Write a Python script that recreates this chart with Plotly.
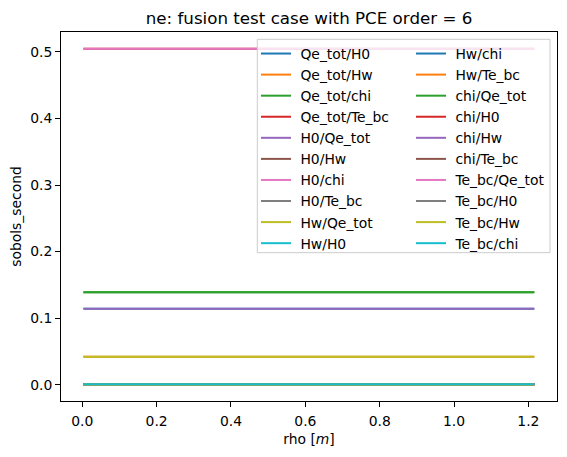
import plotly.graph_objects as go

# data
rho = [0.003, 0.3, 0.6, 0.9, 1.216]
names = ["Qe_tot/H0", "Qe_tot/Hw", "Qe_tot/chi", "Qe_tot/Te_bc",
         "H0/Qe_tot", "H0/Hw", "H0/chi", "H0/Te_bc",
         "Hw/Qe_tot", "Hw/H0", "Hw/chi", "Hw/Te_bc",
         "chi/Qe_tot", "chi/H0", "chi/Hw", "chi/Te_bc",
         "Te_bc/Qe_tot", "Te_bc/H0", "Te_bc/Hw", "Te_bc/chi"]
values = [0.114, 0.042, 0.139, 0.505,
          0.114, 0.0005, 0.0007, 0.0,
          0.042, 0.0008, 0.0005, 0.0004,
          0.139, 0.0007, 0.0005, 0.0008,
          0.505, 0.0, 0.0004, 0.0008]
x_ticks = [0.0, 0.2, 0.4, 0.6, 0.8, 1.0, 1.2]
y_ticks = [0.0, 0.1, 0.2, 0.3, 0.4, 0.5]

colors = ["#1f77b4", "#ff7f0e", "#2ca02c", "#d62728", "#9467bd",
          "#8c564b", "#e377c2", "#7f7f7f", "#bcbd22", "#17becf"]

FONT = "DejaVu Sans"
FS = 13.9
OFF = 8  # default page body margin
W, H = 567 - OFF, 457 - OFF
# plot area in page pixels: left 61, top 32, right 557, bottom 401
ML, MT = 61 - OFF, 32 - OFF
MR, MB = W - (557 - OFF), H - (401 - OFF)
PW, PH = W - ML - MR, H - MT - MB


def px_x(p):
    return (p - OFF - ML) / PW


def px_y(p):
    return 1 - (p - OFF - MT) / PH


fig = go.Figure()
n = len(names)
half = n // 2
for i, (nm, v) in enumerate(zip(names, values)):
    fig.add_trace(go.Scatter(
        x=rho, y=[v] * len(rho), mode="lines", name="\u00a0" + nm,
        line=dict(color=colors[i % 10], width=2),
        legend="legend" if i < half else "legend2",
    ))

leg_common = dict(
    bgcolor="rgba(0,0,0,0)", borderwidth=0,
    font=dict(size=FS, family=FONT, color="black"),
    xanchor="left", yanchor="top", tracegroupgap=0,
)

fig.update_layout(
    width=W, height=H,
    margin=dict(l=ML, r=MR, t=MT, b=MB, autoexpand=False),
    paper_bgcolor="white", plot_bgcolor="white",
    font=dict(family=FONT, size=FS, color="black"),
    title=dict(text="ne: fusion test case with PCE order = 6",
               x=(ML + W - MR) / 2 / W, xanchor="center",
               y=1 - 10 / H, yanchor="middle",
               font=dict(size=16.7, family=FONT, color="black")),
    showlegend=True,
    legend=dict(x=px_x(256), y=px_y(38), **leg_common),
    legend2=dict(x=px_x(411), y=px_y(38), **leg_common),
    shapes=[dict(type="rect", xref="paper", yref="paper",
                 x0=px_x(257.3), x1=px_x(550), y0=px_y(252.7), y1=px_y(39.3),
                 line=dict(color="#cccccc", width=1),
                 fillcolor="rgba(255,255,255,0.8)", layer="above")],
    xaxis=dict(
        range=[-0.0573, 1.277], tickvals=x_ticks,
        ticktext=[f"{t:.1f}" for t in x_ticks],
        showgrid=False, zeroline=False, automargin=False,
        showline=True, linecolor="black", linewidth=1, mirror=True,
        ticks="outside", ticklen=5, tickcolor="black", tickwidth=1,
        ticklabelstandoff=2,
        title=dict(text="rho [<i>m</i>]", standoff=6,
                   font=dict(size=FS, family=FONT)),
    ),
    yaxis=dict(
        range=[-0.0245, 0.530], tickvals=y_ticks,
        ticktext=[f"{t:.1f}" for t in y_ticks],
        showgrid=False, zeroline=False, automargin=False,
        showline=True, linecolor="black", linewidth=1, mirror=True,
        ticks="outside", ticklen=5, tickcolor="black", tickwidth=1,
        title=dict(text="sobols_second", standoff=8,
                   font=dict(size=FS, family=FONT)),
    ),
)

fig.write_html("out.html")
